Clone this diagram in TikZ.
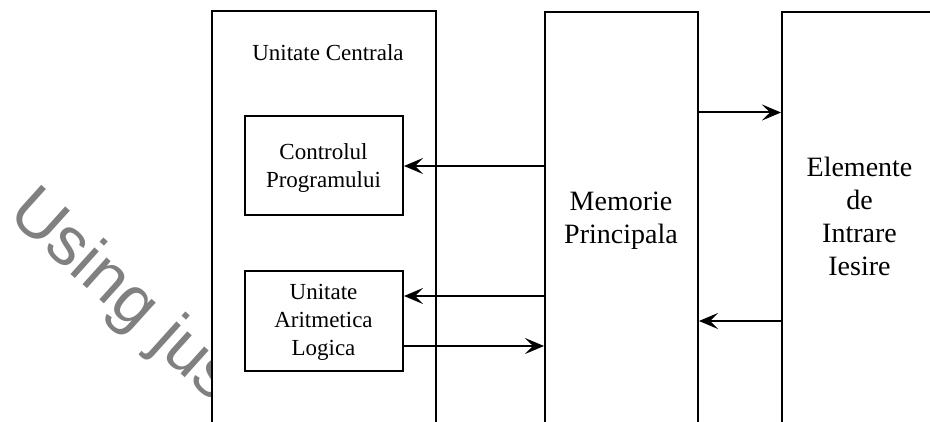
\documentclass[tikz,border=0pt]{standalone}
\usepackage{fontspec}
\setmainfont{Liberation Serif}
\newfontfamily\wmfont{Liberation Sans}
\usetikzlibrary{arrows.meta}
\begin{document}
\begin{tikzpicture}[x=1pt,y=-1pt,
  box/.style={draw=black, line width=2pt, fill=white, inner sep=0pt, anchor=north west},
  smalltxt/.style={font=\fontsize{23}{28}\selectfont, align=center, inner sep=0pt},
  bigtxt/.style={font=\fontsize{28}{33}\selectfont, align=center, inner sep=0pt},
  flow/.style={line width=2pt, -{Stealth[length=19pt, width=16pt, inset=8pt, line width=1pt]}},
  wm/.style={font=\wmfont\fontsize{68}{68}\selectfont, text=black!50, inner sep=0pt}]
\useasboundingbox (0,0) rectangle (930,422);
\fill[white] (0,0) rectangle (930,422);
\clip (0,0) rectangle (930,422);

% faint watermark on the left margin
\begin{scope}
  \clip (0,0) rectangle (211,422);
  \node[wm, rotate=-42, anchor=base west] (mark) at (6,216) {Using jus};
\end{scope}

% main blocks (running past the lower edge)
\node[box, minimum width=224pt, minimum height=440pt] (cpu) at (211,10.5) {};
\node[box, minimum width=153pt, minimum height=440pt] (mem) at (544,11) {};
\node[box, minimum width=180pt, minimum height=440pt] (io)  at (781,11) {};

% inner blocks of the central unit
\node[box, minimum width=158pt, minimum height=99pt] (ctrl) at (244,115.5) {};
\node[box, minimum width=158pt, minimum height=100pt] (alu) at (244,270.5) {};

% labels
\node[smalltxt, anchor=base] (cpulbl) at (328,61) {Unitate Centrala};
\node[smalltxt] (ctrllbl) at (323.5,167.7) {Controlul\\Programului};
\node[smalltxt] (alulbl) at (323.5,322) {Unitate\\Aritmetica\\Logica};
\node[bigtxt] (memlbl) at (621,220.5) {Memorie\\Principala};
\node[bigtxt] (iolbl) at (859.5,216.5) {Elemente\\de\\Intrare\\Iesire};

% data paths
\draw[flow] (mem.west |- ctrl.east) -- (ctrl.east);
\draw[flow] (mem.west |- 0,296) -- (alu.east |- 0,296);
\draw[flow] (alu.east |- 0,346) -- (mem.west |- 0,346);
\draw[flow] (mem.east |- 0,112.5) -- (io.west |- 0,112.5);
\draw[flow] (io.west |- 0,321) -- (mem.east |- 0,321);
\end{tikzpicture}
\end{document}
